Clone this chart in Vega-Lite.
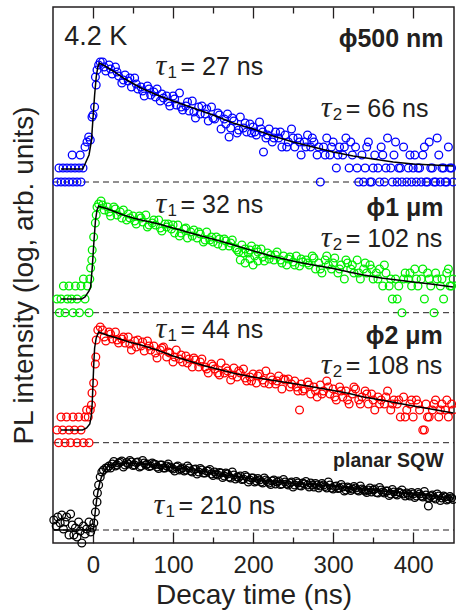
{
"$schema": "https://vega.github.io/schema/vega-lite/v6.json",
"width": 401, "height": 536,
"autosize": {"type": "none"},
"padding": {"left": 53, "top": 7, "right": 2, "bottom": 68},
"config": {
  "view": {"stroke": "#231f20", "strokeWidth": 1.5},
  "axis": {"domain": false, "grid": false, "tickColor": "#231f20", "tickWidth": 1.3, "labelColor": "#231f20", "titleColor": "#231f20", "labelFont": "Liberation Sans", "titleFont": "Liberation Sans", "titleFontWeight": "normal"}
},
"datasets": {
"base": [{"s":"b","t":-50,"v":361},{"s":"b","t":451,"v":361},{"s":"g","t":-50,"v":230.3},{"s":"g","t":451,"v":230.3},{"s":"r","t":-50,"v":100.3},{"s":"r","t":451,"v":100.3},{"s":"k","t":-50,"v":13},{"s":"k","t":451,"v":13}],
"fit": [
{"s":"b","t":-40,"v":374},{"s":"b","t":-13,"v":374},{"s":"b","t":-10,"v":379},{"s":"b","t":-5,"v":388},{"s":"b","t":-2,"v":402},{"s":"b","t":0,"v":425},{"s":"b","t":2,"v":448},{"s":"b","t":4,"v":466},{"s":"b","t":6,"v":476},{"s":"b","t":8,"v":480},{"s":"b","t":15,"v":477},{"s":"b","t":25,"v":472},{"s":"b","t":40,"v":464},{"s":"b","t":60,"v":455},{"s":"b","t":80,"v":448},{"s":"b","t":100,"v":442},{"s":"b","t":125,"v":435},{"s":"b","t":150,"v":428},{"s":"b","t":175,"v":420},{"s":"b","t":200,"v":414},{"s":"b","t":225,"v":407},{"s":"b","t":250,"v":401},{"s":"b","t":275,"v":396},{"s":"b","t":300,"v":391},{"s":"b","t":325,"v":387},{"s":"b","t":350,"v":384},{"s":"b","t":375,"v":381},{"s":"b","t":400,"v":379},{"s":"b","t":425,"v":378},{"s":"b","t":450,"v":377},
{"s":"g","t":-40,"v":244},{"s":"g","t":-14,"v":244},{"s":"g","t":-10,"v":246},{"s":"g","t":-5,"v":252},{"s":"g","t":-3,"v":256},{"s":"g","t":-1,"v":275},{"s":"g","t":1,"v":300},{"s":"g","t":3,"v":322},{"s":"g","t":5,"v":333},{"s":"g","t":7,"v":337},{"s":"g","t":10,"v":336},{"s":"g","t":17,"v":334.5},{"s":"g","t":25,"v":332},{"s":"g","t":38,"v":328},{"s":"g","t":50,"v":325},{"s":"g","t":60,"v":323},{"s":"g","t":80,"v":319.5},{"s":"g","t":100,"v":315},{"s":"g","t":122,"v":310},{"s":"g","t":140,"v":306},{"s":"g","t":163,"v":301},{"s":"g","t":180,"v":297},{"s":"g","t":205,"v":291},{"s":"g","t":225,"v":286.5},{"s":"g","t":255,"v":281},{"s":"g","t":275,"v":278},{"s":"g","t":297,"v":275},{"s":"g","t":320,"v":271},{"s":"g","t":338,"v":268},{"s":"g","t":360,"v":265},{"s":"g","t":380,"v":263},{"s":"g","t":400,"v":261},{"s":"g","t":422,"v":259},{"s":"g","t":450,"v":256},
{"s":"r","t":-40,"v":113},{"s":"r","t":-13,"v":113},{"s":"r","t":-8,"v":115},{"s":"r","t":-4,"v":119},{"s":"r","t":-2,"v":128},{"s":"r","t":-1,"v":140},{"s":"r","t":0,"v":160},{"s":"r","t":1,"v":180},{"s":"r","t":2,"v":195},{"s":"r","t":4,"v":205},{"s":"r","t":7,"v":211},{"s":"r","t":17,"v":208},{"s":"r","t":30,"v":205},{"s":"r","t":45,"v":201},{"s":"r","t":60,"v":198},{"s":"r","t":80,"v":193},{"s":"r","t":100,"v":187},{"s":"r","t":120,"v":182},{"s":"r","t":140,"v":177},{"s":"r","t":160,"v":173},{"s":"r","t":180,"v":169},{"s":"r","t":200,"v":166},{"s":"r","t":222,"v":163},{"s":"r","t":250,"v":159.5},{"s":"r","t":275,"v":156},{"s":"r","t":297,"v":153},{"s":"r","t":320,"v":149.5},{"s":"r","t":338,"v":146},{"s":"r","t":360,"v":143},{"s":"r","t":380,"v":140},{"s":"r","t":400,"v":137},{"s":"r","t":422,"v":134},{"s":"r","t":450,"v":130},
{"s":"k","t":-49,"v":13},{"s":"k","t":0.5,"v":13},{"s":"k","t":3,"v":33},{"s":"k","t":5,"v":46},{"s":"k","t":7,"v":55},{"s":"k","t":9,"v":62},{"s":"k","t":11,"v":67},{"s":"k","t":14,"v":72},{"s":"k","t":18,"v":76},{"s":"k","t":25,"v":78.5},{"s":"k","t":40,"v":80},{"s":"k","t":55,"v":79.5},{"s":"k","t":75,"v":78},{"s":"k","t":100,"v":75.5},{"s":"k","t":125,"v":73},{"s":"k","t":150,"v":70},{"s":"k","t":172,"v":67},{"s":"k","t":200,"v":64},{"s":"k","t":222,"v":61.5},{"s":"k","t":250,"v":59.5},{"s":"k","t":275,"v":58.5},{"s":"k","t":297,"v":57},{"s":"k","t":325,"v":55},{"s":"k","t":350,"v":53},{"s":"k","t":375,"v":51},{"s":"k","t":400,"v":49},{"s":"k","t":425,"v":47},{"s":"k","t":450,"v":45}
],
"pts": [
{"s":"b","t":-45,"v":361},{"s":"b","t":-42.5,"v":375},{"s":"b","t":-40,"v":361},{"s":"b","t":-37.5,"v":375},{"s":"b","t":-35,"v":361},{"s":"b","t":-32.5,"v":375},{"s":"b","t":-30,"v":361},{"s":"b","t":-27.5,"v":375},{"s":"b","t":-26,"v":388},{"s":"b","t":-25,"v":361},{"s":"b","t":-22.5,"v":375},{"s":"b","t":-20,"v":361},{"s":"b","t":-17.5,"v":375},{"s":"b","t":-16,"v":388},{"s":"b","t":-15,"v":361},{"s":"b","t":-12.5,"v":375},{"s":"b","t":-10,"v":396},{"s":"b","t":-7.5,"v":401},{"s":"b","t":-5.4,"v":406},{"s":"b","t":-3.4,"v":403},{"s":"b","t":-1.3,"v":426},{"s":"b","t":0,"v":428},{"s":"b","t":2,"v":436},{"s":"b","t":3,"v":466},{"s":"b","t":4,"v":458},{"s":"b","t":5,"v":473},{"s":"b","t":7,"v":478},{"s":"b","t":9,"v":481},
{"s":"b","t":12,"v":481},{"s":"b","t":16,"v":472},{"s":"b","t":20,"v":478},{"s":"b","t":24,"v":469},{"s":"b","t":28,"v":476},{"s":"b","t":32,"v":467},{"s":"b","t":36,"v":460},{"s":"b","t":40,"v":468},{"s":"b","t":44,"v":462},{"s":"b","t":48,"v":456},{"s":"b","t":52,"v":465},{"s":"b","t":56,"v":454},{"s":"b","t":60,"v":456},{"s":"b","t":64,"v":447},{"s":"b","t":68,"v":457},{"s":"b","t":72,"v":448},{"s":"b","t":76,"v":451},{"s":"b","t":80,"v":454},{"s":"b","t":84,"v":442},{"s":"b","t":88,"v":445},{"s":"b","t":92,"v":447},{"s":"b","t":96,"v":437},{"s":"b","t":100,"v":447},{"s":"b","t":104,"v":438},{"s":"b","t":108,"v":450},{"s":"b","t":112,"v":433},{"s":"b","t":116,"v":437},{"s":"b","t":120,"v":432},{"s":"b","t":124,"v":442},{"s":"b","t":128,"v":425},{"s":"b","t":132,"v":436},{"s":"b","t":136,"v":437},{"s":"b","t":140,"v":429},{"s":"b","t":144,"v":422},{"s":"b","t":148,"v":436},{"s":"b","t":152,"v":424},{"s":"b","t":156,"v":430},{"s":"b","t":160,"v":414},{"s":"b","t":164,"v":424},{"s":"b","t":168,"v":429},{"s":"b","t":172,"v":415},{"s":"b","t":176,"v":422},{"s":"b","t":180,"v":410},{"s":"b","t":184,"v":426},{"s":"b","t":188,"v":415},{"s":"b","t":192,"v":411},{"s":"b","t":196,"v":419},
{"s":"b","t":14,"v":476},{"s":"b","t":22,"v":474},{"s":"b","t":30,"v":471},{"s":"b","t":38,"v":463},{"s":"b","t":46,"v":465},{"s":"b","t":54,"v":459},{"s":"b","t":62,"v":452},{"s":"b","t":70,"v":454},{"s":"b","t":78,"v":446},{"s":"b","t":86,"v":449},{"s":"b","t":94,"v":441},{"s":"b","t":102,"v":444},{"s":"b","t":110,"v":436},{"s":"b","t":118,"v":441},{"s":"b","t":126,"v":431},{"s":"b","t":134,"v":429},{"s":"b","t":142,"v":434},{"s":"b","t":150,"v":425},{"s":"b","t":158,"v":428},{"s":"b","t":166,"v":419},{"s":"b","t":170,"v":406},{"s":"b","t":174,"v":425},{"s":"b","t":182,"v":413},{"s":"b","t":190,"v":420},{"s":"b","t":198,"v":410},
{"s":"b","t":200,"v":416},{"s":"b","t":204,"v":408},{"s":"b","t":208,"v":421},{"s":"b","t":212,"v":411},{"s":"b","t":213,"v":391},{"s":"b","t":216,"v":405},{"s":"b","t":220,"v":414},{"s":"b","t":224,"v":401},{"s":"b","t":228,"v":411},{"s":"b","t":232,"v":405},{"s":"b","t":236,"v":396},{"s":"b","t":240,"v":408},{"s":"b","t":244,"v":401},{"s":"b","t":248,"v":414},{"s":"b","t":252,"v":396},{"s":"b","t":256,"v":405},{"s":"b","t":260,"v":388},{"s":"b","t":264,"v":401},{"s":"b","t":268,"v":408},{"s":"b","t":272,"v":396},{"s":"b","t":276,"v":401},{"s":"b","t":280,"v":388},{"s":"b","t":284,"v":361},{"s":"b","t":288,"v":396},{"s":"b","t":292,"v":405},{"s":"b","t":296,"v":388},{"s":"b","t":300,"v":401},{"s":"b","t":304,"v":375},{"s":"b","t":308,"v":396},{"s":"b","t":312,"v":388},{"s":"b","t":316,"v":405},{"s":"b","t":320,"v":375},{"s":"b","t":324,"v":388},{"s":"b","t":328,"v":396},{"s":"b","t":332,"v":361},{"s":"b","t":336,"v":388},{"s":"b","t":340,"v":375},{"s":"b","t":344,"v":401},{"s":"b","t":348,"v":361},{"s":"b","t":352,"v":388},{"s":"b","t":356,"v":375},{"s":"b","t":360,"v":396},{"s":"b","t":364,"v":361},{"s":"b","t":368,"v":405},{"s":"b","t":372,"v":375},{"s":"b","t":376,"v":388},{"s":"b","t":380,"v":361},{"s":"b","t":384,"v":375},{"s":"b","t":388,"v":396},{"s":"b","t":392,"v":361},{"s":"b","t":396,"v":388},{"s":"b","t":400,"v":375},{"s":"b","t":404,"v":361},{"s":"b","t":408,"v":375},{"s":"b","t":412,"v":388},{"s":"b","t":416,"v":361},{"s":"b","t":420,"v":401},{"s":"b","t":424,"v":375},{"s":"b","t":428,"v":361},{"s":"b","t":432,"v":388},{"s":"b","t":436,"v":375},{"s":"b","t":440,"v":361},{"s":"b","t":444,"v":396},{"s":"b","t":448,"v":375},
{"s":"b","t":338,"v":361},{"s":"b","t":346,"v":361},{"s":"b","t":358,"v":361},{"s":"b","t":374,"v":361},{"s":"b","t":386,"v":361},{"s":"b","t":398,"v":361},{"s":"b","t":410,"v":361},{"s":"b","t":418,"v":361},{"s":"b","t":426,"v":361},{"s":"b","t":434,"v":361},{"s":"b","t":442,"v":361},{"s":"b","t":450,"v":361},{"s":"b","t":330,"v":375},{"s":"b","t":350,"v":375},{"s":"b","t":366,"v":375},{"s":"b","t":382,"v":375},{"s":"b","t":394,"v":375},{"s":"b","t":406,"v":375},{"s":"b","t":422,"v":375},{"s":"b","t":438,"v":375},{"s":"b","t":446,"v":375},{"s":"b","t":342,"v":396},{"s":"b","t":362,"v":388},{"s":"b","t":378,"v":401},{"s":"b","t":402,"v":388},{"s":"b","t":414,"v":396},{"s":"b","t":430,"v":405},{"s":"b","t":202,"v":411},{"s":"b","t":210,"v":414},{"s":"b","t":218,"v":408},{"s":"b","t":226,"v":405},{"s":"b","t":234,"v":411},{"s":"b","t":242,"v":396},{"s":"b","t":250,"v":405},{"s":"b","t":258,"v":401},{"s":"b","t":266,"v":396},{"s":"b","t":274,"v":405},{"s":"b","t":282,"v":396},{"s":"b","t":290,"v":388},{"s":"b","t":298,"v":396},{"s":"b","t":306,"v":388},{"s":"b","t":314,"v":396},{"s":"b","t":322,"v":401},
{"s":"g","t":-45,"v":244},{"s":"g","t":-42,"v":230.3},{"s":"g","t":-40,"v":244},{"s":"g","t":-37,"v":257},{"s":"g","t":-35,"v":230.3},{"s":"g","t":-32,"v":244},{"s":"g","t":-30,"v":257},{"s":"g","t":-27,"v":244},{"s":"g","t":-25,"v":230.3},{"s":"g","t":-22,"v":257},{"s":"g","t":-20,"v":244},{"s":"g","t":-17,"v":230.3},{"s":"g","t":-15,"v":257},{"s":"g","t":-12,"v":264},{"s":"g","t":-10,"v":244},{"s":"g","t":-7,"v":257},{"s":"g","t":-5,"v":230.3},{"s":"g","t":-4,"v":264},{"s":"g","t":-3,"v":275},{"s":"g","t":-1.5,"v":283},{"s":"g","t":-1,"v":293},{"s":"g","t":0.8,"v":306},{"s":"g","t":2.9,"v":320},{"s":"g","t":4,"v":328},{"s":"g","t":5,"v":336},{"s":"g","t":7,"v":339},
{"s":"g","t":10,"v":342},{"s":"g","t":14,"v":333},{"s":"g","t":18,"v":336},{"s":"g","t":22,"v":327},{"s":"g","t":26,"v":336},{"s":"g","t":30,"v":328},{"s":"g","t":34,"v":331},{"s":"g","t":38,"v":333},{"s":"g","t":42,"v":323},{"s":"g","t":46,"v":325},{"s":"g","t":50,"v":327},{"s":"g","t":54,"v":319},{"s":"g","t":58,"v":327},{"s":"g","t":62,"v":321},{"s":"g","t":66,"v":328},{"s":"g","t":70,"v":318},{"s":"g","t":74,"v":320},{"s":"g","t":78,"v":318},{"s":"g","t":82,"v":323},{"s":"g","t":86,"v":312},{"s":"g","t":90,"v":319},{"s":"g","t":94,"v":319},{"s":"g","t":98,"v":314},{"s":"g","t":102,"v":310},{"s":"g","t":106,"v":318},{"s":"g","t":110,"v":310},{"s":"g","t":114,"v":314},{"s":"g","t":118,"v":305},{"s":"g","t":122,"v":311},{"s":"g","t":126,"v":313},{"s":"g","t":130,"v":305},{"s":"g","t":134,"v":309},{"s":"g","t":138,"v":301},{"s":"g","t":142,"v":311},{"s":"g","t":146,"v":303},{"s":"g","t":150,"v":301},{"s":"g","t":154,"v":306},{"s":"g","t":158,"v":304},{"s":"g","t":162,"v":297},{"s":"g","t":166,"v":302},{"s":"g","t":170,"v":297},{"s":"g","t":174,"v":303},{"s":"g","t":178,"v":295},{"s":"g","t":182,"v":291},{"s":"g","t":186,"v":298},{"s":"g","t":190,"v":294},{"s":"g","t":194,"v":290},{"s":"g","t":198,"v":297},{"s":"g","t":202,"v":287},{"s":"g","t":206,"v":291},{"s":"g","t":210,"v":294},{"s":"g","t":214,"v":282},{"s":"g","t":218,"v":290},{"s":"g","t":222,"v":288},{"s":"g","t":226,"v":283},{"s":"g","t":230,"v":291},{"s":"g","t":234,"v":283},{"s":"g","t":238,"v":287},{"s":"g","t":242,"v":278},{"s":"g","t":246,"v":286},{"s":"g","t":250,"v":281},{"s":"g","t":254,"v":287},{"s":"g","t":258,"v":277},{"s":"g","t":262,"v":281},
{"s":"g","t":184,"v":283},{"s":"g","t":190,"v":280},{"s":"g","t":196,"v":284},{"s":"g","t":200,"v":278},{"s":"g","t":206,"v":282},
{"s":"g","t":266,"v":283},{"s":"g","t":270,"v":278},{"s":"g","t":274,"v":287},{"s":"g","t":278,"v":274},{"s":"g","t":282,"v":280},{"s":"g","t":286,"v":270},{"s":"g","t":290,"v":283},{"s":"g","t":294,"v":278},{"s":"g","t":298,"v":274},{"s":"g","t":302,"v":285},{"s":"g","t":306,"v":270},{"s":"g","t":310,"v":278},{"s":"g","t":314,"v":264},{"s":"g","t":318,"v":280},{"s":"g","t":322,"v":274},{"s":"g","t":326,"v":270},{"s":"g","t":330,"v":283},{"s":"g","t":334,"v":264},{"s":"g","t":338,"v":274},{"s":"g","t":342,"v":270},{"s":"g","t":346,"v":278},{"s":"g","t":350,"v":264},{"s":"g","t":354,"v":270},{"s":"g","t":358,"v":274},{"s":"g","t":362,"v":257},{"s":"g","t":366,"v":270},{"s":"g","t":370,"v":257},{"s":"g","t":374,"v":244},{"s":"g","t":378,"v":264},{"s":"g","t":382,"v":257},{"s":"g","t":386,"v":230.3},{"s":"g","t":390,"v":270},{"s":"g","t":394,"v":264},{"s":"g","t":398,"v":257},{"s":"g","t":402,"v":274},{"s":"g","t":406,"v":257},{"s":"g","t":410,"v":264},{"s":"g","t":414,"v":244},{"s":"g","t":418,"v":270},{"s":"g","t":422,"v":257},{"s":"g","t":426,"v":230.3},{"s":"g","t":430,"v":264},{"s":"g","t":434,"v":257},{"s":"g","t":438,"v":244},{"s":"g","t":442,"v":270},{"s":"g","t":446,"v":257},{"s":"g","t":450,"v":264},
{"s":"g","t":268,"v":280},{"s":"g","t":276,"v":285},{"s":"g","t":284,"v":274},{"s":"g","t":292,"v":287},{"s":"g","t":300,"v":280},{"s":"g","t":308,"v":274},{"s":"g","t":316,"v":283},{"s":"g","t":324,"v":278},{"s":"g","t":332,"v":270},{"s":"g","t":340,"v":280},{"s":"g","t":348,"v":274},{"s":"g","t":356,"v":264},{"s":"g","t":364,"v":278},{"s":"g","t":372,"v":264},{"s":"g","t":380,"v":244},{"s":"g","t":388,"v":264},{"s":"g","t":396,"v":270},{"s":"g","t":404,"v":264},{"s":"g","t":412,"v":274},{"s":"g","t":420,"v":264},{"s":"g","t":428,"v":270},{"s":"g","t":436,"v":264},{"s":"g","t":444,"v":274},{"s":"g","t":448,"v":257},
{"s":"g","t":12,"v":338},{"s":"g","t":20,"v":331},{"s":"g","t":28,"v":334},{"s":"g","t":36,"v":325},{"s":"g","t":44,"v":329},{"s":"g","t":52,"v":322},{"s":"g","t":60,"v":325},{"s":"g","t":68,"v":316},{"s":"g","t":76,"v":323},{"s":"g","t":84,"v":315},{"s":"g","t":92,"v":316},{"s":"g","t":100,"v":318},{"s":"g","t":108,"v":307},{"s":"g","t":116,"v":315},{"s":"g","t":124,"v":307},{"s":"g","t":132,"v":311},{"s":"g","t":140,"v":303},{"s":"g","t":148,"v":306},{"s":"g","t":156,"v":299},{"s":"g","t":164,"v":304},{"s":"g","t":172,"v":300},{"s":"g","t":180,"v":293},{"s":"g","t":188,"v":290},{"s":"g","t":196,"v":293},{"s":"g","t":204,"v":294},{"s":"g","t":212,"v":286},{"s":"g","t":220,"v":284},{"s":"g","t":228,"v":288},{"s":"g","t":236,"v":280},{"s":"g","t":244,"v":284},{"s":"g","t":252,"v":278},{"s":"g","t":260,"v":284},
{"s":"r","t":-45,"v":113},{"s":"r","t":-43,"v":100.3},{"s":"r","t":-40,"v":126},{"s":"r","t":-38,"v":113},{"s":"r","t":-35,"v":100.3},{"s":"r","t":-33,"v":126},{"s":"r","t":-30,"v":113},{"s":"r","t":-28,"v":100.3},{"s":"r","t":-25,"v":126},{"s":"r","t":-23,"v":113},{"s":"r","t":-20,"v":100.3},{"s":"r","t":-18,"v":126},{"s":"r","t":-15,"v":113},{"s":"r","t":-12,"v":100.3},{"s":"r","t":-10,"v":126},{"s":"r","t":-8,"v":133},{"s":"r","t":-6,"v":126},{"s":"r","t":-5,"v":100.3},{"s":"r","t":-3.4,"v":133},{"s":"r","t":-2,"v":138},{"s":"r","t":-1.3,"v":150},{"s":"r","t":0.8,"v":160},{"s":"r","t":2.9,"v":179},{"s":"r","t":3.5,"v":186},{"s":"r","t":4,"v":203},{"s":"r","t":6,"v":213},{"s":"r","t":9,"v":216},
{"s":"r","t":12,"v":213},{"s":"r","t":16,"v":202},{"s":"r","t":20,"v":211},{"s":"r","t":24,"v":204},{"s":"r","t":28,"v":211},{"s":"r","t":32,"v":200},{"s":"r","t":36,"v":204},{"s":"r","t":40,"v":200},{"s":"r","t":44,"v":206},{"s":"r","t":48,"v":193},{"s":"r","t":52,"v":202},{"s":"r","t":56,"v":203},{"s":"r","t":60,"v":197},{"s":"r","t":64,"v":192},{"s":"r","t":68,"v":202},{"s":"r","t":72,"v":193},{"s":"r","t":76,"v":197},{"s":"r","t":80,"v":185},{"s":"r","t":84,"v":193},{"s":"r","t":88,"v":196},{"s":"r","t":92,"v":186},{"s":"r","t":96,"v":190},{"s":"r","t":100,"v":181},{"s":"r","t":104,"v":193},{"s":"r","t":108,"v":184},{"s":"r","t":112,"v":181},{"s":"r","t":116,"v":187},{"s":"r","t":120,"v":184},{"s":"r","t":124,"v":176},{"s":"r","t":128,"v":183},{"s":"r","t":132,"v":176},{"s":"r","t":136,"v":184},{"s":"r","t":140,"v":176},{"s":"r","t":144,"v":170},{"s":"r","t":148,"v":179},{"s":"r","t":152,"v":174},{"s":"r","t":156,"v":170},{"s":"r","t":160,"v":180},{"s":"r","t":164,"v":170},{"s":"r","t":168,"v":172},{"s":"r","t":172,"v":163},{"s":"r","t":176,"v":175},{"s":"r","t":180,"v":166},{"s":"r","t":184,"v":170},{"s":"r","t":188,"v":174},{"s":"r","t":192,"v":162},{"s":"r","t":196,"v":166},{"s":"r","t":200,"v":169},{"s":"r","t":204,"v":160},{"s":"r","t":208,"v":169},{"s":"r","t":212,"v":163},{"s":"r","t":216,"v":172},{"s":"r","t":220,"v":159},{"s":"r","t":224,"v":163},{"s":"r","t":228,"v":159},{"s":"r","t":232,"v":167},{"s":"r","t":236,"v":154},{"s":"r","t":240,"v":163},{"s":"r","t":244,"v":164},{"s":"r","t":248,"v":159},
{"s":"r","t":252,"v":162},{"s":"r","t":256,"v":152},{"s":"r","t":258,"v":133},{"s":"r","t":260,"v":159},{"s":"r","t":264,"v":154},{"s":"r","t":268,"v":161},{"s":"r","t":272,"v":149},{"s":"r","t":276,"v":156},{"s":"r","t":280,"v":146},{"s":"r","t":284,"v":158},{"s":"r","t":288,"v":152},{"s":"r","t":292,"v":162},{"s":"r","t":296,"v":149},{"s":"r","t":300,"v":154},{"s":"r","t":304,"v":143},{"s":"r","t":308,"v":156},{"s":"r","t":312,"v":146},{"s":"r","t":316,"v":152},{"s":"r","t":320,"v":139},{"s":"r","t":324,"v":149},{"s":"r","t":328,"v":154},{"s":"r","t":332,"v":143},{"s":"r","t":336,"v":146},{"s":"r","t":340,"v":152},{"s":"r","t":344,"v":139},{"s":"r","t":348,"v":149},{"s":"r","t":352,"v":133},{"s":"r","t":356,"v":146},{"s":"r","t":360,"v":143},{"s":"r","t":364,"v":139},{"s":"r","t":368,"v":152},{"s":"r","t":372,"v":133},{"s":"r","t":376,"v":143},{"s":"r","t":380,"v":139},{"s":"r","t":384,"v":126},{"s":"r","t":388,"v":146},{"s":"r","t":392,"v":133},{"s":"r","t":396,"v":139},{"s":"r","t":400,"v":126},{"s":"r","t":404,"v":143},{"s":"r","t":408,"v":133},{"s":"r","t":412,"v":113},{"s":"r","t":416,"v":139},{"s":"r","t":420,"v":126},{"s":"r","t":424,"v":133},{"s":"r","t":428,"v":143},{"s":"r","t":432,"v":126},{"s":"r","t":436,"v":139},{"s":"r","t":440,"v":133},{"s":"r","t":444,"v":126},{"s":"r","t":448,"v":139},
{"s":"r","t":14,"v":206},{"s":"r","t":22,"v":209},{"s":"r","t":30,"v":203},{"s":"r","t":38,"v":206},{"s":"r","t":46,"v":199},{"s":"r","t":54,"v":196},{"s":"r","t":62,"v":201},{"s":"r","t":70,"v":197},{"s":"r","t":78,"v":190},{"s":"r","t":86,"v":195},{"s":"r","t":94,"v":191},{"s":"r","t":102,"v":186},{"s":"r","t":110,"v":188},{"s":"r","t":118,"v":180},{"s":"r","t":126,"v":185},{"s":"r","t":134,"v":181},{"s":"r","t":142,"v":174},{"s":"r","t":150,"v":177},{"s":"r","t":158,"v":168},{"s":"r","t":166,"v":175},{"s":"r","t":174,"v":168},{"s":"r","t":182,"v":172},{"s":"r","t":190,"v":165},{"s":"r","t":198,"v":162},{"s":"r","t":206,"v":167},{"s":"r","t":214,"v":160},{"s":"r","t":222,"v":166},{"s":"r","t":230,"v":162},{"s":"r","t":238,"v":164},{"s":"r","t":246,"v":156},{"s":"r","t":254,"v":156},{"s":"r","t":262,"v":152},{"s":"r","t":270,"v":158},{"s":"r","t":278,"v":152},{"s":"r","t":286,"v":149},{"s":"r","t":294,"v":156},{"s":"r","t":302,"v":146},{"s":"r","t":310,"v":152},{"s":"r","t":318,"v":143},{"s":"r","t":326,"v":156},{"s":"r","t":334,"v":139},{"s":"r","t":342,"v":149},{"s":"r","t":350,"v":143},{"s":"r","t":358,"v":139},{"s":"r","t":366,"v":146},{"s":"r","t":374,"v":139},{"s":"r","t":382,"v":143},{"s":"r","t":390,"v":126},{"s":"r","t":398,"v":143},{"s":"r","t":406,"v":139},{"s":"r","t":414,"v":113},{"s":"r","t":418,"v":126},{"s":"r","t":426,"v":139},{"s":"r","t":434,"v":133},{"s":"r","t":442,"v":143},{"s":"r","t":450,"v":133},
{"s":"k","t":-49,"v":23},{"s":"k","t":-46,"v":17},{"s":"k","t":-44,"v":26},{"s":"k","t":-41,"v":20},{"s":"k","t":-39,"v":28},{"s":"k","t":-37,"v":14},{"s":"k","t":-35,"v":21},{"s":"k","t":-33,"v":26},{"s":"k","t":-30,"v":8},{"s":"k","t":-28,"v":29},{"s":"k","t":-26,"v":18},{"s":"k","t":-24,"v":8},{"s":"k","t":-22,"v":15},{"s":"k","t":-20,"v":6},{"s":"k","t":-18,"v":21},{"s":"k","t":-16,"v":12},{"s":"k","t":-14,"v":0},{"s":"k","t":-12,"v":17},{"s":"k","t":-10,"v":9},{"s":"k","t":-8,"v":14},{"s":"k","t":-5,"v":21},{"s":"k","t":-3,"v":11},{"s":"k","t":-1,"v":15},{"s":"k","t":1,"v":20},{"s":"k","t":3,"v":31},{"s":"k","t":5,"v":41},{"s":"k","t":5.5,"v":50},{"s":"k","t":7,"v":58},{"s":"k","t":9,"v":66},{"s":"k","t":11,"v":71},{"s":"k","t":13,"v":73},{"s":"k","t":16,"v":75},
{"s":"k","t":18,"v":75},{"s":"k","t":22,"v":75},{"s":"k","t":26,"v":81.5},{"s":"k","t":30,"v":78},{"s":"k","t":34,"v":81},{"s":"k","t":38,"v":76},{"s":"k","t":42,"v":80.5},{"s":"k","t":46,"v":82.5},{"s":"k","t":50,"v":77.5},{"s":"k","t":54,"v":80.5},{"s":"k","t":58,"v":76},{"s":"k","t":62,"v":82.5},{"s":"k","t":66,"v":78},{"s":"k","t":70,"v":76.5},{"s":"k","t":74,"v":80},{"s":"k","t":78,"v":78.5},{"s":"k","t":82,"v":74.5},{"s":"k","t":86,"v":78},{"s":"k","t":90,"v":75},{"s":"k","t":94,"v":79},{"s":"k","t":98,"v":75},{"s":"k","t":102,"v":72},{"s":"k","t":106,"v":77},{"s":"k","t":110,"v":74},{"s":"k","t":114,"v":72},{"s":"k","t":118,"v":77},{"s":"k","t":122,"v":72},{"s":"k","t":126,"v":73.5},{"s":"k","t":130,"v":69},{"s":"k","t":134,"v":74.5},{"s":"k","t":138,"v":70},{"s":"k","t":142,"v":72},{"s":"k","t":146,"v":73.5},{"s":"k","t":150,"v":67.5},{"s":"k","t":154,"v":69},{"s":"k","t":158,"v":70.5},{"s":"k","t":162,"v":65.5},{"s":"k","t":166,"v":70},{"s":"k","t":170,"v":66},{"s":"k","t":174,"v":71},{"s":"k","t":178,"v":64},{"s":"k","t":182,"v":65.5},{"s":"k","t":186,"v":63.5},{"s":"k","t":190,"v":67.5},{"s":"k","t":194,"v":61},{"s":"k","t":198,"v":65},{"s":"k","t":202,"v":61},{"s":"k","t":206,"v":64.5},{"s":"k","t":210,"v":61},{"s":"k","t":214,"v":65},{"s":"k","t":218,"v":61.5},{"s":"k","t":222,"v":58.5},{"s":"k","t":226,"v":63},{"s":"k","t":230,"v":61},{"s":"k","t":234,"v":58.5},{"s":"k","t":238,"v":63.5},{"s":"k","t":242,"v":59},{"s":"k","t":246,"v":60},{"s":"k","t":250,"v":56},{"s":"k","t":254,"v":61.5},{"s":"k","t":258,"v":57.5},{"s":"k","t":262,"v":60},{"s":"k","t":266,"v":61.5},{"s":"k","t":270,"v":56},{"s":"k","t":274,"v":58},{"s":"k","t":278,"v":59.5},{"s":"k","t":282,"v":55},{"s":"k","t":286,"v":59.5},{"s":"k","t":290,"v":56.5},{"s":"k","t":294,"v":61},{"s":"k","t":298,"v":55},{"s":"k","t":302,"v":56.5},{"s":"k","t":306,"v":54.5},{"s":"k","t":310,"v":58.5},{"s":"k","t":314,"v":52},{"s":"k","t":318,"v":56},{"s":"k","t":322,"v":52.5},{"s":"k","t":326,"v":56.5},{"s":"k","t":330,"v":53},{"s":"k","t":334,"v":57},{"s":"k","t":338,"v":53},{"s":"k","t":342,"v":50.5},{"s":"k","t":346,"v":55},{"s":"k","t":350,"v":53},{"s":"k","t":354,"v":50.5},{"s":"k","t":358,"v":55.5},{"s":"k","t":362,"v":51},{"s":"k","t":366,"v":52},{"s":"k","t":370,"v":47.5},{"s":"k","t":374,"v":53.5},{"s":"k","t":378,"v":49},{"s":"k","t":382,"v":51},{"s":"k","t":386,"v":53},{"s":"k","t":390,"v":47},{"s":"k","t":394,"v":48.5},{"s":"k","t":398,"v":50.5},{"s":"k","t":402,"v":45.5},{"s":"k","t":406,"v":50.5},{"s":"k","t":410,"v":47},{"s":"k","t":414,"v":51.5},{"s":"k","t":418,"v":45.5},{"s":"k","t":419,"v":37},{"s":"k","t":422,"v":47},{"s":"k","t":426,"v":45.5},{"s":"k","t":430,"v":49},{"s":"k","t":434,"v":42.5},{"s":"k","t":438,"v":47},{"s":"k","t":442,"v":43},{"s":"k","t":446,"v":46.5},{"s":"k","t":450,"v":43.5},
{"s":"k","t":20,"v":77},{"s":"k","t":24,"v":79},{"s":"k","t":28,"v":77},{"s":"k","t":32,"v":80},{"s":"k","t":36,"v":82},{"s":"k","t":40,"v":78},{"s":"k","t":44,"v":79},{"s":"k","t":48,"v":81},{"s":"k","t":52,"v":78},{"s":"k","t":56,"v":81},{"s":"k","t":60,"v":77},{"s":"k","t":64,"v":80},{"s":"k","t":68,"v":79},{"s":"k","t":72,"v":77},{"s":"k","t":76,"v":79},{"s":"k","t":80,"v":76},{"s":"k","t":84,"v":78},{"s":"k","t":88,"v":75},{"s":"k","t":92,"v":77},{"s":"k","t":96,"v":76},{"s":"k","t":100,"v":74},{"s":"k","t":104,"v":76},{"s":"k","t":108,"v":73},{"s":"k","t":112,"v":75},{"s":"k","t":116,"v":73},{"s":"k","t":120,"v":75},{"s":"k","t":124,"v":71},{"s":"k","t":128,"v":74},{"s":"k","t":132,"v":71},{"s":"k","t":136,"v":73},{"s":"k","t":140,"v":70},{"s":"k","t":144,"v":72},{"s":"k","t":148,"v":69},{"s":"k","t":152,"v":71},{"s":"k","t":156,"v":68},{"s":"k","t":160,"v":70},{"s":"k","t":164,"v":67},{"s":"k","t":168,"v":69},{"s":"k","t":172,"v":65},{"s":"k","t":176,"v":68},{"s":"k","t":180,"v":66},{"s":"k","t":184,"v":67},{"s":"k","t":188,"v":64},{"s":"k","t":192,"v":66},{"s":"k","t":196,"v":63},{"s":"k","t":200,"v":65},{"s":"k","t":204,"v":62},{"s":"k","t":208,"v":63},{"s":"k","t":212,"v":60},{"s":"k","t":216,"v":63},{"s":"k","t":220,"v":60},{"s":"k","t":224,"v":62},{"s":"k","t":228,"v":59},{"s":"k","t":232,"v":62},{"s":"k","t":236,"v":59},{"s":"k","t":240,"v":61},{"s":"k","t":244,"v":58},{"s":"k","t":248,"v":61},{"s":"k","t":252,"v":58},{"s":"k","t":256,"v":60},{"s":"k","t":260,"v":57},{"s":"k","t":264,"v":59},{"s":"k","t":268,"v":58},{"s":"k","t":272,"v":60},{"s":"k","t":276,"v":56},{"s":"k","t":280,"v":58},{"s":"k","t":284,"v":57},{"s":"k","t":288,"v":58},{"s":"k","t":292,"v":55},{"s":"k","t":296,"v":58},{"s":"k","t":300,"v":54},{"s":"k","t":304,"v":57},{"s":"k","t":308,"v":55},{"s":"k","t":312,"v":56},{"s":"k","t":316,"v":53},{"s":"k","t":320,"v":55},{"s":"k","t":324,"v":54},{"s":"k","t":328,"v":55},{"s":"k","t":332,"v":52},{"s":"k","t":336,"v":54},{"s":"k","t":340,"v":52},{"s":"k","t":344,"v":53},{"s":"k","t":348,"v":51},{"s":"k","t":352,"v":54},{"s":"k","t":356,"v":50},{"s":"k","t":360,"v":53},{"s":"k","t":364,"v":50},{"s":"k","t":368,"v":52},{"s":"k","t":372,"v":49},{"s":"k","t":376,"v":51},{"s":"k","t":380,"v":48},{"s":"k","t":384,"v":50},{"s":"k","t":388,"v":49},{"s":"k","t":392,"v":50},{"s":"k","t":396,"v":47},{"s":"k","t":400,"v":49},{"s":"k","t":404,"v":47},{"s":"k","t":408,"v":49},{"s":"k","t":412,"v":46},{"s":"k","t":416,"v":48},{"s":"k","t":420,"v":45},{"s":"k","t":424,"v":48},{"s":"k","t":428,"v":44},{"s":"k","t":432,"v":47},{"s":"k","t":436,"v":45},{"s":"k","t":440,"v":46},{"s":"k","t":444,"v":44},{"s":"k","t":448,"v":45}
],
"tau": [
{"t":78,"v":468,"sub":"1","rest":"= 27 ns"},
{"t":284.5,"v":426,"sub":"2","rest":"= 66 ns"},
{"t":78,"v":330,"sub":"1","rest":"= 32 ns"},
{"t":284.5,"v":296,"sub":"2","rest":"= 102 ns"},
{"t":78,"v":205,"sub":"1","rest":"= 44 ns"},
{"t":284.5,"v":169,"sub":"2","rest":"= 108 ns"},
{"t":75.5,"v":29,"sub":"1","rest":"= 210 ns"}
]
},
"layer": [
{
 "data": {"name": "base"},
 "mark": {"type": "line", "color": "#231f20", "strokeWidth": 1, "strokeDash": [6, 4]},
 "encoding": {
  "x": {"field": "t", "type": "quantitative", "scale": {"domain": [-50, 451], "nice": false, "zero": false}, "axis": {"orient": "top", "values": [0, 100, 200, 300, 400], "tickSize": -11, "labels": false, "title": null}},
  "y": {"field": "v", "type": "quantitative", "scale": {"domain": [0, 536], "nice": false, "zero": false}, "axis": {"orient": "left", "title": "PL intensity (log, arb. units)", "ticks": false, "labels": false, "titleFontSize": 28, "titlePadding": 15}},
  "detail": {"field": "s"}
 }
},
{
 "data": {"name": "pts"},
 "mark": {"type": "point", "shape": "circle", "filled": false, "size": 60, "strokeWidth": 1.3, "opacity": 1},
 "encoding": {
  "x": {"field": "t", "type": "quantitative", "scale": {"domain": [-50, 451], "nice": false, "zero": false}, "axis": {"orient": "bottom", "values": [0, 100, 200, 300, 400], "tickSize": -11, "labelPadding": 21, "labelFontSize": 24, "title": "Decay time (ns)", "titleFontSize": 28, "titlePadding": 4}},
  "y": {"field": "v", "type": "quantitative", "axis": null},
  "color": {"field": "s", "type": "nominal", "scale": {"domain": ["b", "g", "r", "k"], "range": ["#0000ff", "#00ee00", "#ff0000", "#000000"]}, "legend": null}
 }
},
{
 "data": {"name": "fit"},
 "mark": {"type": "line", "color": "#000000", "strokeWidth": 1.5},
 "encoding": {
  "x": {"field": "t", "type": "quantitative", "scale": {"domain": [-50, 451], "nice": false, "zero": false}, "axis": {"orient": "bottom", "values": [50, 150, 250, 350], "tickSize": -6, "labels": false, "title": null}},
  "y": {"field": "v", "type": "quantitative", "axis": null},
  "detail": {"field": "s"}
 }
},
{
 "data": {"values": [{"t": -36, "v": 498, "txt": "4.2 K"}]},
 "mark": {"type": "text", "align": "left", "baseline": "alphabetic", "font": "Liberation Sans", "fontSize": 27, "color": "#231f20"},
 "encoding": {
  "x": {"field": "t", "type": "quantitative", "axis": {"orient": "top", "values": [50, 150, 250, 350], "tickSize": -6, "labels": false, "title": null}},
  "y": {"field": "v", "type": "quantitative", "axis": null},
  "text": {"field": "txt"}
 }
},
{
 "data": {"values": [{"t": 438, "v": 496, "txt": "ϕ500 nm"}, {"t": 438, "v": 327, "txt": "ϕ1 μm"}, {"t": 437, "v": 199, "txt": "ϕ2 μm"}]},
 "mark": {"type": "text", "align": "right", "baseline": "alphabetic", "font": "Liberation Sans", "fontWeight": "bold", "fontSize": 25, "color": "#231f20"},
 "encoding": {
  "x": {"field": "t", "type": "quantitative", "axis": null},
  "y": {"field": "v", "type": "quantitative", "axis": null},
  "text": {"field": "txt"}
 }
},
{
 "data": {"values": [{"t": 438, "v": 76, "txt": "planar SQW"}]},
 "mark": {"type": "text", "align": "right", "baseline": "alphabetic", "font": "Liberation Sans", "fontWeight": "bold", "fontSize": 19.5, "color": "#231f20"},
 "encoding": {
  "x": {"field": "t", "type": "quantitative", "axis": null},
  "y": {"field": "v", "type": "quantitative", "axis": null},
  "text": {"field": "txt"}
 }
},
{
 "data": {"name": "tau"},
 "mark": {"type": "text", "align": "left", "baseline": "alphabetic", "font": "Liberation Serif", "fontStyle": "italic", "fontSize": 30, "color": "#231f20"},
 "encoding": {
  "x": {"field": "t", "type": "quantitative", "axis": null},
  "y": {"field": "v", "type": "quantitative", "axis": null},
  "text": {"value": "τ"}
 }
},
{
 "data": {"name": "tau"},
 "mark": {"type": "text", "align": "left", "baseline": "alphabetic", "font": "Liberation Sans", "fontSize": 17, "dx": 12, "dy": 3, "color": "#231f20"},
 "encoding": {
  "x": {"field": "t", "type": "quantitative", "axis": null},
  "y": {"field": "v", "type": "quantitative", "axis": null},
  "text": {"field": "sub"}
 }
},
{
 "data": {"name": "tau"},
 "mark": {"type": "text", "align": "left", "baseline": "alphabetic", "font": "Liberation Sans", "fontSize": 25, "dx": 25, "color": "#231f20"},
 "encoding": {
  "x": {"field": "t", "type": "quantitative", "axis": null},
  "y": {"field": "v", "type": "quantitative", "axis": null},
  "text": {"field": "rest"}
 }
}
],
"resolve": {"axis": {"x": "independent", "y": "independent"}}
}
